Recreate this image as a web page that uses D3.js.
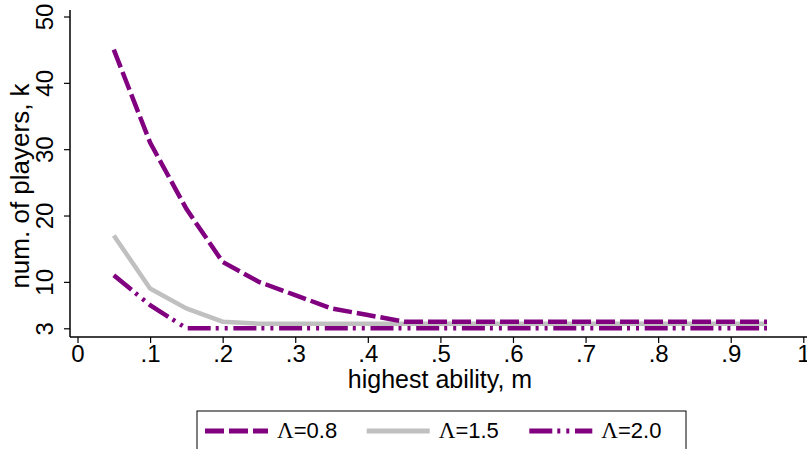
<!DOCTYPE html>
<html>
<head>
<meta charset="utf-8">
<script src="https://cdn.jsdelivr.net/npm/d3@7"></script>
<style>
  body { margin: 0; background: #fff; }
  text { font-family: "Liberation Sans", Arial, sans-serif; fill: #000; }
</style>
</head>
<body>
<div id="chart"></div>
<script>
// data
const ability = [0.05, 0.10, 0.15, 0.20, 0.25, 0.30, 0.35, 0.40, 0.45, 0.50,
                 0.55, 0.60, 0.65, 0.70, 0.75, 0.80, 0.85, 0.90, 0.95];
const k_08 = [45, 31, 21, 13, 10, 8, 6, 5, 4, 4, 4, 4, 4, 4, 4, 4, 4, 4, 4];
const k_15 = [17, 9, 6, 4, 3.7, 3.7, 3.7, 3.7, 3.7, 3.7, 3.7, 3.7, 3.7, 3.7, 3.7, 3.7, 3.7, 3.7, 3.7];
const k_20 = [11, 6.5, 3, 3, 3, 3, 3, 3, 3, 3, 3, 3, 3, 3, 3, 3, 3, 3, 3];
const x_ticks = [0, 0.1, 0.2, 0.3, 0.4, 0.5, 0.6, 0.7, 0.8, 0.9, 1];
const y_ticks = [3, 10, 20, 30, 40, 50];
const legend_labels = ["0.8", "1.5", "2.0"];

const width = 807, height = 449;
const purple = "#800080", grey = "#c0c0c0";

const svg = d3.select("#chart").append("svg")
  .attr("width", width)
  .attr("height", height);

const x = d3.scaleLinear().domain([0, 1]).range([77.5, 803.3]);
const y = d3.scaleLinear().domain([3, 50]).range([328.3, 16.5]);

// axis lines
svg.append("line").attr("x1", 70).attr("x2", 70).attr("y1", 10).attr("y2", 337)
  .attr("stroke", "#000").attr("stroke-width", 1.5);
svg.append("line").attr("x1", 70).attr("x2", 807).attr("y1", 337).attr("y2", 337)
  .attr("stroke", "#000").attr("stroke-width", 1.5);

// y axis
const yAxis = svg.append("g")
  .attr("transform", "translate(70,0)")
  .call(d3.axisLeft(y).tickValues(y_ticks).tickSize(6).tickFormat(d3.format("d")));
yAxis.select(".domain").remove();
yAxis.selectAll("line").attr("stroke-width", 1.2);
yAxis.selectAll("text")
  .attr("x", null).attr("dy", null)
  .attr("transform", "translate(-17,0) rotate(-90)")
  .attr("text-anchor", "middle")
  .style("font-size", "24px");

// x axis
const xAxis = svg.append("g")
  .attr("transform", "translate(0,337)")
  .call(d3.axisBottom(x).tickValues(x_ticks).tickSize(6)
    .tickFormat(d => d === 0 ? "0" : d === 1 ? "1" : d3.format(".1f")(d).replace("0.", ".")));
xAxis.select(".domain").remove();
xAxis.selectAll("line").attr("stroke-width", 1.2);
xAxis.selectAll("text")
  .attr("y", 8)
  .style("font-size", "24px");

// titles
svg.append("text")
  .attr("x", 440).attr("y", 388)
  .attr("text-anchor", "middle")
  .style("font-size", "25px")
  .text("highest ability, m");

svg.append("text")
  .attr("transform", "translate(29,186) rotate(-90)")
  .attr("text-anchor", "middle")
  .style("font-size", "26px")
  .text("num. of players, k");

// series
const series = [
  { values: k_08, color: purple, dash: "19,5" },
  { values: k_15, color: grey, dash: null },
  { values: k_20, color: purple, dash: "23,5,3,6,3,5.7" }
];

const line = d3.line()
  .x((d, i) => x(ability[i]))
  .y(d => y(d));

// grey first so purple sits on top
[series[1], series[0], series[2]].forEach(s => {
  svg.append("path")
    .datum(s.values)
    .attr("d", line)
    .attr("fill", "none")
    .attr("stroke", s.color)
    .attr("stroke-width", 4.5)
    .attr("stroke-dasharray", s.dash);
});

// legend
const legend = svg.append("g");
legend.append("rect")
  .attr("x", 197).attr("y", 411)
  .attr("width", 489).attr("height", 60)
  .attr("fill", "#fff").attr("stroke", "#000").attr("stroke-width", 1);

const legend_x = [205, 366.7, 529.3];
series.forEach((s, i) => {
  legend.append("line")
    .attr("x1", legend_x[i]).attr("x2", legend_x[i] + 63)
    .attr("y1", 431).attr("y2", 431)
    .attr("stroke", s.color)
    .attr("stroke-width", 5)
    .attr("stroke-dasharray", s.dash);
  const t = legend.append("text")
    .attr("x", legend_x[i] + 72).attr("y", 438)
    .style("font-size", "22px");
  t.append("tspan").style("font-family", "'Liberation Serif', 'Times New Roman', serif")
    .style("font-size", "23px").text("Λ");
  t.append("tspan").text("=" + legend_labels[i]);
});
</script>
</body>
</html>
